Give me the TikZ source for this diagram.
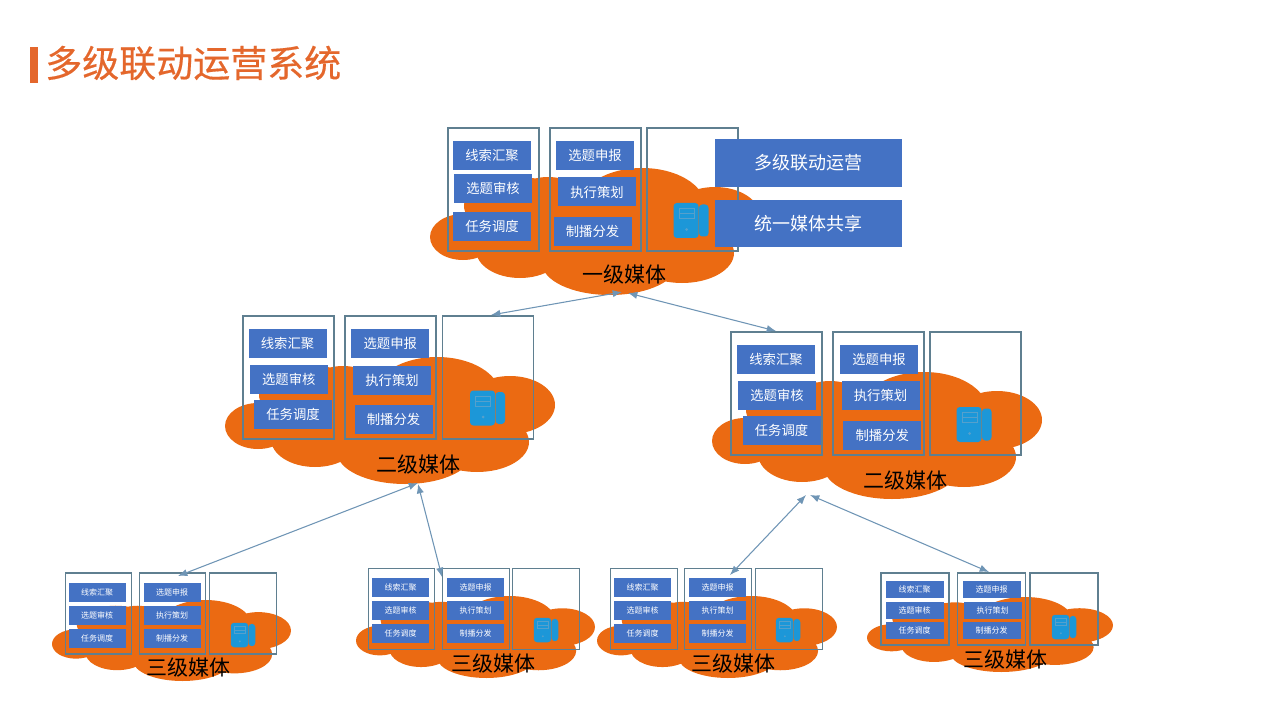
\documentclass[tikz,border=0pt]{standalone}
\usepackage{xcolor}
\usepackage{fontspec}
\usepackage{tikz}
\usetikzlibrary{arrows.meta}
\newfontfamily\cjk{Noto Sans CJK SC}
\definecolor{cloudorange}{HTML}{EB6A12}
\definecolor{taskblue}{HTML}{4472C4}
\definecolor{columngray}{HTML}{5F7F90}
\definecolor{linksteel}{HTML}{6F95B5}
\definecolor{serverblue}{HTML}{1C97D8}
\definecolor{slotblue}{HTML}{55A0CC}
\definecolor{titleorange}{HTML}{E4672C}
\tikzset{
  column/.style={draw=columngray,line width=0.85pt,inner sep=0pt},
  big column/.style={column,minimum width=68.25pt,minimum height=92.25pt},
  small column/.style={column,minimum width=50pt,minimum height=60.75pt},
  task/.style={fill=taskblue,text=white,inner sep=0pt},
  big task/.style={task,minimum width=58.5pt,minimum height=21.75pt,
    font=\cjk\fontsize{10}{10}\selectfont},
  small task/.style={task,minimum width=42.75pt,minimum height=14.25pt,
    font=\cjk\fontsize{6}{6}\selectfont},
  wide task/.style={task,minimum width=140.25pt,minimum height=35.5pt,
    font=\cjk\fontsize{13.5}{13.5}\selectfont},
  media label/.style={inner sep=0pt,text=black,font=\cjk\fontsize{15.75}{15.75}\selectfont},
  link/.style={draw=linksteel,line width=0.8pt,{Latex[length=7pt,width=5.5pt]}-{Latex[length=7pt,width=5.5pt]}},
  server/.pic={
    \fill[serverblue,rounded corners=2.5pt] (-17.5,-17.5) rectangle (7.5,17.5);
    \fill[serverblue,rounded corners=2.5pt] (8,-16) rectangle (17.5,16);
    \draw[slotblue,line width=0.4pt] (-12,-12) rectangle (3,-2) (-12,-7)--(3,-7);
    \fill[slotblue] (-4.5,9) circle (1.5);
  }
}
% one cloud, given by its left and top edge, width and height
\newcommand{\mediacloud}[4]{
  \begin{scope}[shift={(#1,#2)},xscale=#3/330,yscale=#4/127]
    \fill[cloudorange] (33,69) ellipse [x radius=33,y radius=23]
      (88,38) ellipse [x radius=54,y radius=29]
      (118,40) ellipse [x radius=42,y radius=31]
      (212,38) ellipse [x radius=63,y radius=38]
      (285,48) ellipse [x radius=45,y radius=29]
      (252,85) ellipse [x radius=52,y radius=30]
      (180,95) ellipse [x radius=68,y radius=32]
      (90,82) ellipse [x radius=44,y radius=28]
      (165,60) ellipse [x radius=120,y radius=44];
  \end{scope}
}
\newcommand{\mediacolumns}[6]{
  \node[#2] (#1c1) at (#3,#6) {};
  \node[#2] (#1c2) at (#4,#6) {};
  \node[#2] (#1c3) at (#5,#6) {};
}
\newcommand{\mediatasks}[8]{
  \node[#2] (#1t1) at (#3) {线索汇聚};
  \node[#2] (#1t2) at (#4) {选题审核};
  \node[#2] (#1t3) at (#5) {任务调度};
  \node[#2] (#1t4) at (#6) {选题申报};
  \node[#2] (#1t5) at (#7) {执行策划};
  \node[#2] (#1t6) at (#8) {制播分发};
}

\begin{document}
\begin{tikzpicture}[x=0.75pt,y=-0.75pt]
  \useasboundingbox (0,0) rectangle (1280,720);
  \node[fill=titleorange,minimum width=6pt,minimum height=27pt,inner sep=0pt] (titlebar) at (34,65) {};
  \node[anchor=west,inner sep=0pt,text=titleorange,font=\cjk\addfontfeature{FakeBold=0.4}\fontsize{27.75}{27.75}\selectfont] (title) at (45,63) {多级联动运营系统};

  % level one
  \mediacloud{430}{168}{330}{127}
  \mediacolumns{top}{big column}{493.5}{595.5}{692.5}{189.5}
  \mediatasks{top}{big task}{492,155.5}{493,188.5}{492,226.5}{595,155.5}{597,192}{592.5,231.5}
  \pic at (691,220.5) {server};
  \node[wide task] (share1) at (808,163) {多级联动运营};
  \node[wide task] (share2) at (808,223.5) {统一媒体共享};
  \node[media label] (toplabel) at (624,275) {一级媒体};

  % level two
  \mediacloud{225}{357}{330}{127}
  \mediacolumns{left}{big column}{288.5}{390.5}{488}{377.5}
  \mediatasks{left}{big task}{287.5,343.3}{288.8,379.5}{293,414.8}{390.3,343.3}{392,380.2}{393.5,419.2}
  \pic at (487.5,408) {server};
  \node[media label] (leftlabel) at (418,465) {二级媒体};

  \mediacloud{712}{372}{330}{127}
  \mediacolumns{right}{big column}{776.5}{878.5}{975.5}{393.5}
  \mediatasks{right}{big task}{776,359}{777,395}{781.5,430.5}{879,359}{880.5,395.7}{882.3,435}
  \pic at (974,424.5) {server};
  \node[media label] (rightlabel) at (905,481) {二级媒体};

  % level three
  \mediacloud{52}{600}{239}{81}
  \mediacolumns{a}{small column}{98.5}{172.5}{243}{613.5}
  \mediatasks{a}{small task}{97,592}{97,615}{97,638}{172,592}{172,615}{172,638}
  \pic[scale=0.7] at (243,635) {server};
  \node[media label] (alabel) at (188,668) {三级媒体};

  \mediacloud{356}{596}{239}{82}
  \mediacolumns{b}{small column}{401.5}{476}{546}{609}
  \mediatasks{b}{small task}{400.5,587}{400.5,610}{400.5,633}{475.5,587}{475.5,610}{475.5,633}
  \pic[scale=0.7] at (546,630) {server};
  \node[media label] (blabel) at (493,664) {三级媒体};

  \mediacloud{597}{596}{240}{82}
  \mediacolumns{c}{small column}{644}{718}{789}{609}
  \mediatasks{c}{small task}{642.7,587}{642.7,610}{642.7,633}{717.5,587}{717.5,610}{717.5,633}
  \pic[scale=0.7] at (788,630) {server};
  \node[media label] (clabel) at (733,664) {三级媒体};

  \mediacloud{867}{597}{246}{75}
  \mediacolumns{d}{small column,minimum width=51pt,minimum height=54pt}{915}{991.5}{1064}{609}
  \mediatasks{d}{small task,minimum width=43.5pt,minimum height=12.75pt}{914.5,589}{914.5,610}{914.5,630}{991.5,589}{992.7,610}{991.5,630}
  \pic[scale=0.7] at (1064,627) {server};
  \node[media label] (dlabel) at (1005,660) {三级媒体};

  % links between the levels
  \coordinate (topa) at (622,292);
  \coordinate (topb) at (628,293);
  \coordinate (lefttop) at (491,315);
  \coordinate (righttop) at (776,331);
  \coordinate (lefta) at (418,483);
  \coordinate (leftb) at (418,484);
  \coordinate (aend) at (178,576);
  \coordinate (bend) at (442,577);
  \coordinate (righta) at (806,495);
  \coordinate (rightb) at (810,495);
  \coordinate (cend) at (730,575);
  \coordinate (dend) at (989,572);
  \draw[link] (topa)--(lefttop);
  \draw[link] (topb)--(righttop);
  \draw[link] (lefta)--(aend);
  \draw[link] (leftb)--(bend);
  \draw[link] (righta)--(cend);
  \draw[link] (rightb)--(dend);
\end{tikzpicture}
\end{document}
